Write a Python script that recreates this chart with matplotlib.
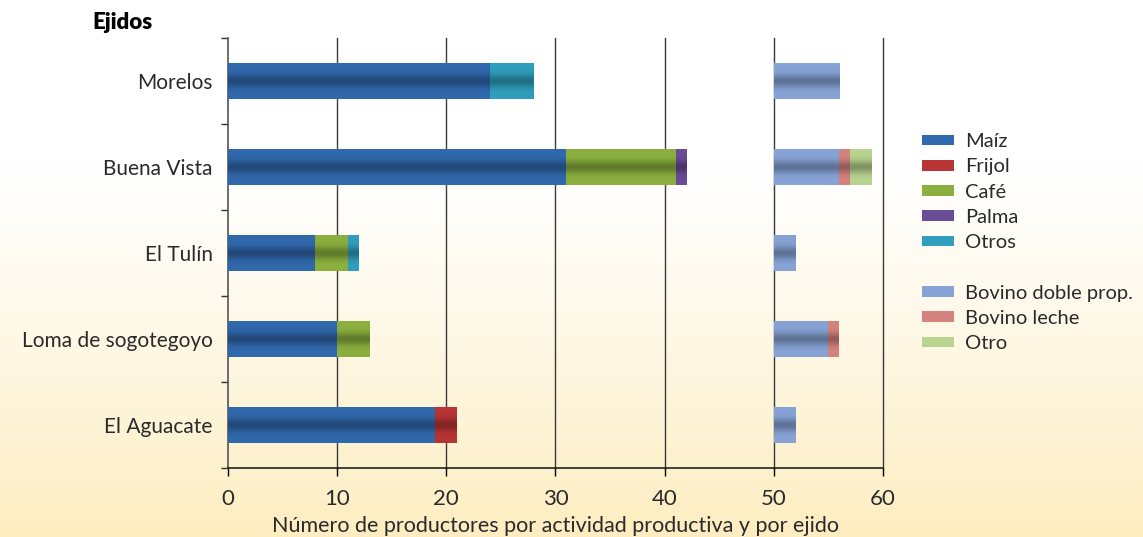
import numpy as np
import matplotlib.pyplot as plt
from matplotlib.colors import to_rgb
from matplotlib.patches import Patch

plt.rcParams['font.family'] = ['Lato', 'DejaVu Sans']

ejidos = ['Morelos', 'Buena Vista', 'El Tulín', 'Loma de sogotegoyo', 'El Aguacate']

# cultivos (productores)
maiz = [24, 31, 8, 10, 19]
frijol = [0, 0, 0, 0, 2]
cafe = [0, 10, 3, 3, 0]
palma = [0, 1, 0, 0, 0]
otros = [4, 0, 1, 0, 0]

# ganado (productores), dibujado a partir de 50
bovino_doble = [6, 6, 2, 5, 2]
bovino_leche = [0, 1, 0, 1, 0]
otro = [0, 2, 0, 0, 0]

crop_series = [('Maíz', maiz, '#3169ad'), ('Frijol', frijol, '#b93434'),
               ('Café', cafe, '#8bb03f'), ('Palma', palma, '#6b4c97'),
               ('Otros', otros, '#2f9fbd')]
stock_series = [('Bovino doble prop.', bovino_doble, '#87a3d6'),
                ('Bovino leche', bovino_leche, '#d5837f'),
                ('Otro', otro, '#b8d48f')]

fig = plt.figure(figsize=(11.43, 5.37), dpi=100)

# fondo degradado blanco -> amarillo claro
bg = fig.add_axes([0, 0, 1, 1], zorder=-10)
t = np.linspace(0, 1, 256)
w = np.clip((t - 0.3) / 0.7, 0, 1) ** 1.2
top = np.array([1, 1, 1])
bot = np.array(to_rgb('#fdedc0'))
grad = (top[None, :] * (1 - w[:, None]) + bot[None, :] * w[:, None])[:, None, :]
bg.imshow(grad, aspect='auto', extent=[0, 1, 0, 1])
bg.axis('off')

ax = fig.add_axes([0.1995, 0.1285, 0.5730, 0.8005])
ax.patch.set_alpha(0)

y = np.arange(len(ejidos))[::-1]
h = 0.41

prof = np.linspace(0, 1, 64)
shade = 1 - 0.30 * np.exp(-((prof - 0.5) / 0.18) ** 2)


def shaded_bar(x0, width, yc, color):
    if width <= 0:
        return
    c = np.array(to_rgb(color))
    img = (c[None, :] * shade[:, None])[:, None, :]
    ax.imshow(img, aspect='auto', interpolation='bilinear',
              extent=[x0, x0 + width, yc - h / 2, yc + h / 2], zorder=3)


left = np.zeros(len(ejidos))
for name, vals, col in crop_series:
    for i in range(len(ejidos)):
        shaded_bar(left[i], vals[i], y[i], col)
    left += np.array(vals)

left = np.full(len(ejidos), 50.0)
for name, vals, col in stock_series:
    for i in range(len(ejidos)):
        shaded_bar(left[i], vals[i], y[i], col)
    left += np.array(vals)

ax.set_xlim(0, 60)
ax.set_ylim(-0.5, len(ejidos) - 0.5)
ax.set_aspect('auto')

for xv in range(10, 61, 10):
    ax.axvline(xv, color='#3a3a3a', lw=1.0, zorder=1, clip_on=False)

txt = '#2a2a2a'
ax.set_yticks(y)
ax.set_yticklabels(ejidos, fontsize=15, color=txt)
ax.set_yticks(np.arange(-0.5, len(ejidos), 1), minor=True)
ax.tick_params(axis='y', which='major', length=0, pad=11)
ax.tick_params(axis='y', which='minor', length=5, width=1, color='#333333')
ax.set_xticks(range(0, 61, 10))
ax.set_xticklabels([str(v) for v in range(0, 61, 10)], fontsize=16, color=txt)
ax.tick_params(axis='x', length=6, width=1, pad=9)
for s in ['top', 'right']:
    ax.spines[s].set_visible(False)
ax.spines['left'].set_color('#555555')
ax.spines['bottom'].set_color('#222222')
ax.spines['left'].set_linewidth(1.2)
ax.spines['bottom'].set_linewidth(1.2)

ax.set_xlabel('Número de productores por actividad productiva y por ejido',
              fontsize=15.5, color=txt, labelpad=5)
fig.text(0.081, 0.958, 'Ejidos', fontsize=16, fontweight='heavy', ha='left', va='center')

handles = [Patch(facecolor=c, label=n) for n, v, c in crop_series]
handles.append(Patch(facecolor='none', edgecolor='none', label=' '))
handles += [Patch(facecolor=c, label=n) for n, v, c in stock_series]
leg = fig.legend(handles=handles, loc='upper left', bbox_to_anchor=(0.8066, 0.752),
                 frameon=False, handlelength=1.6, handleheight=0.45,
                 handletextpad=0.55, labelspacing=0.41, borderpad=0, borderaxespad=0,
                 prop={'size': 14.5}, labelcolor=txt)

fig.savefig('out.png', dpi=100)
